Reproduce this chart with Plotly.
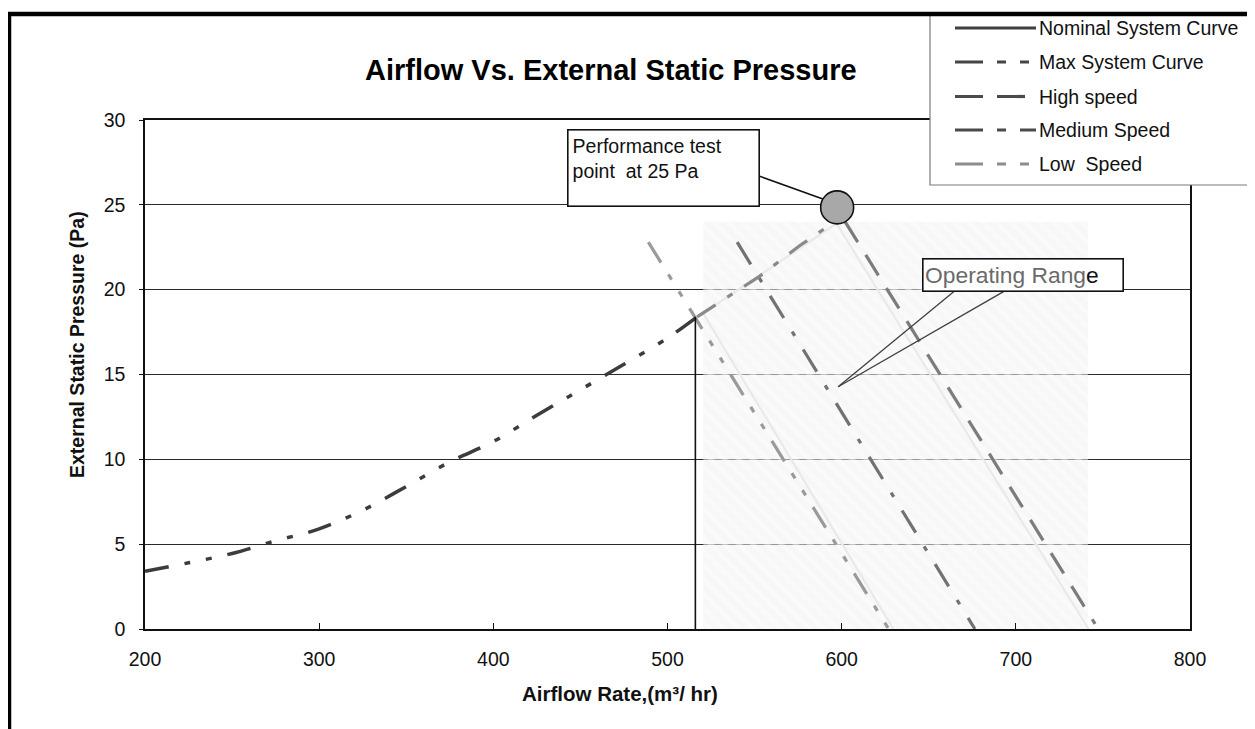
import plotly.graph_objects as go

# ---------------- data ----------------
system_x = [200, 225, 250, 275, 300, 325, 350, 375, 400, 425, 450, 475, 500, 517]
system_y = [3.4, 3.9, 4.45, 5.2, 5.9, 7.0, 8.4, 9.85, 11.05, 12.6, 14.1, 15.6, 17.15, 18.4]

system_ext_x = [517, 553, 576, 596]
system_ext_y = [18.4, 20.8, 22.6, 24.0]

nominal_x = [516, 516]
nominal_y = [0, 18.4]

high_x = [602, 745.5]
high_y = [24.0, 0.3]

medium_x = [540, 676.5]
medium_y = [22.8, 0]

low_x = [489, 627]
low_y = [22.8, 0]

test_point_x = [597.4]
test_point_y = [24.85]

range_box_x = [520.5, 741.5, 741.5, 520.5, 520.5]
range_box_y = [0, 0, 24, 24, 0]

range_outline_x = [629.7, 520.5, 597, 741.8]
range_outline_y = [0, 18.6, 23.9, 0]

x_ticks = [200, 300, 400, 500, 600, 700, 800]
y_ticks = [0, 5, 10, 15, 20, 25, 30]

legend_names = ["Nominal System Curve", "Max System Curve", "High speed",
                "Medium Speed", "Low\u00a0 Speed"]
legend_colors = ["#404040", "#454545", "#4a4a4a", "#4a4a4a", "#8c8c8c"]
legend_dashes = ["solid", "28px,14px,9px,14px,9px,14px", "28px,14px",
                 "28px,14px,9px,14px", "28px,14px,9px,14px,9px,14px"]

FONT = "Liberation Sans, Arial, sans-serif"

# ---------------- layout geometry (pixels) ----------------
OFF = 8                     # page body margin of the html output
W, H = 1255 - OFF, 729 - OFF
ML, MR, MT, MB = 145 - OFF, 65, 120 - OFF, 100
PW = W - ML - MR
PH = H - MT - MB


def px(xp):
    return (xp - OFF - ML) / PW


def py(yp):
    return (H - MB - (yp - OFF)) / PH


fig = go.Figure()

# hatched operating range
fig.add_trace(go.Scatter(
    x=range_box_x, y=range_box_y, mode="lines", fill="toself",
    line=dict(width=0, color="rgba(0,0,0,0)"),
    fillcolor="rgba(245,245,245,0.5)",
    fillpattern=dict(shape="\\", size=10, solidity=0.45,
                     fgcolor="rgba(255,255,255,0.85)",
                     bgcolor="rgba(240,240,240,0.55)"),
    showlegend=False, hoverinfo="skip"))

# light outline of operating envelope
fig.add_trace(go.Scatter(
    x=range_outline_x, y=range_outline_y, mode="lines",
    line=dict(color="#e9e9e9", width=2.2), showlegend=False, hoverinfo="skip"))

# speed lines
fig.add_trace(go.Scatter(x=low_x, y=low_y, mode="lines", name="Low Speed",
                         line=dict(color="#9a9a9a", width=3.2,
                                   dash="24px,14px,6px,14px,6px,14px"),
                         showlegend=False))
fig.add_trace(go.Scatter(x=medium_x, y=medium_y, mode="lines", name="Medium Speed",
                         line=dict(color="#727272", width=3.2,
                                   dash="26px,16px,5px,16px"),
                         showlegend=False))
fig.add_trace(go.Scatter(x=high_x, y=high_y, mode="lines", name="High speed",
                         line=dict(color="#7c7c7c", width=3.2, dash="24px,15px"),
                         showlegend=False))

# system curves
fig.add_trace(go.Scatter(x=system_ext_x, y=system_ext_y, mode="lines",
                         line=dict(color="#8a8a8a", width=3.2,
                                   dash="22px,14px,6px,14px"),
                         showlegend=False))
fig.add_trace(go.Scatter(x=system_x, y=system_y, mode="lines", name="Max System Curve",
                         line=dict(color="#3c3c3c", width=3.5, shape="spline",
                                   dash="24px,16px,6px,16px,6px,16px"),
                         showlegend=False))
fig.add_trace(go.Scatter(x=nominal_x, y=nominal_y, mode="lines",
                         name="Nominal System Curve",
                         line=dict(color="#111111", width=1.6),
                         showlegend=False))

# performance test point
fig.add_trace(go.Scatter(x=test_point_x, y=test_point_y, mode="markers",
                         marker=dict(size=33, color="#a8a8a8",
                                     line=dict(color="#111111", width=1.6)),
                         showlegend=False))

shapes = []
annotations = []

# connector lines for call-outs (data coordinates)
shapes.append(dict(type="line", xref="x", yref="y", x0=552.5, y0=26.7,
                   x1=589.2, y1=25.34, line=dict(color="#111111", width=1.5)))
shapes.append(dict(type="line", xref="x", yref="y", x0=665.0, y0=19.93,
                   x1=598.0, y1=14.28, line=dict(color="#404040", width=1.3)))
shapes.append(dict(type="line", xref="x", yref="y", x0=693.7, y0=19.93,
                   x1=598.0, y1=14.28, line=dict(color="#404040", width=1.3)))

# legend box
shapes.append(dict(type="rect", xref="paper", yref="paper",
                   x0=px(930), x1=px(1265), y0=py(185), y1=py(14),
                   line=dict(color="#7a7a7a", width=1.2), fillcolor="white",
                   layer="above"))
legend_rows = [28, 62, 96.5, 130, 164]
for name, col, dsh, yy in zip(legend_names, legend_colors, legend_dashes, legend_rows):
    shapes.append(dict(type="line", xref="paper", yref="paper",
                       x0=px(955), x1=px(1036), y0=py(yy), y1=py(yy),
                       line=dict(color=col, width=3.2, dash=dsh), layer="above"))
    annotations.append(dict(xref="paper", yref="paper", x=px(1037), y=py(yy),
                            xanchor="left", yanchor="middle", showarrow=False,
                            text=name, font=dict(family=FONT, size=19.5, color="#111111")))

# outer chart frame
shapes.append(dict(type="rect", xref="paper", yref="paper",
                   x0=px(9), x1=px(1275), y0=py(760), y1=py(14),
                   line=dict(color="black", width=4.5), fillcolor="rgba(0,0,0,0)",
                   layer="above"))

# title
annotations.append(dict(xref="paper", yref="paper", x=px(611), y=py(70),
                        xanchor="center", yanchor="middle", showarrow=False,
                        text="<b>Airflow Vs. External Static Pressure</b>",
                        font=dict(family=FONT, size=29, color="black")))
# axis titles
annotations.append(dict(xref="paper", yref="paper", x=px(77), y=py(345),
                        xanchor="center", yanchor="middle", showarrow=False,
                        textangle=-90,
                        text="<b>External Static Pressure (Pa)</b>",
                        font=dict(family=FONT, size=19.5, color="#111111")))
annotations.append(dict(xref="paper", yref="paper", x=px(620), y=py(693),
                        xanchor="center", yanchor="middle", showarrow=False,
                        text="<b>Airflow Rate,(m\u00b3/ hr)</b>",
                        font=dict(family=FONT, size=20.5, color="#111111")))

# call-out boxes
annotations.append(dict(xref="paper", yref="paper", x=px(567), y=py(129),
                        xanchor="left", yanchor="top", showarrow=False,
                        text="Performance test<br>point\u00a0 at 25 Pa",
                        align="left", valign="top", width=182, height=67,
                        borderpad=4, borderwidth=1.6, bordercolor="#111111",
                        bgcolor="white",
                        font=dict(family=FONT, size=19.5, color="#111111")))
annotations.append(dict(xref="paper", yref="paper", x=px(922), y=py(258),
                        xanchor="left", yanchor="top", showarrow=False,
                        text="Operating Rang<span style='color:#111111'>e</span>",
                        align="left", valign="middle", width=196, height=28,
                        borderpad=1.5, borderwidth=1.6, bordercolor="#111111",
                        bgcolor="white",
                        font=dict(family=FONT, size=22.8, color="#6a6a6a")))

fig.update_layout(
    width=W, height=H, autosize=False,
    margin=dict(l=ML, r=MR, t=MT, b=MB),
    paper_bgcolor="white", plot_bgcolor="white",
    showlegend=False,
    font=dict(family=FONT, size=19.5, color="#111111"),
    shapes=shapes, annotations=annotations,
    xaxis=dict(range=[200, 800], tickvals=x_ticks, ticktext=[str(v) for v in x_ticks],
               showgrid=False, zeroline=False, showline=True, linecolor="#111111",
               linewidth=2, mirror=True, ticks="inside", ticklen=6, tickwidth=1.3,
               tickcolor="#111111", ticklabelstandoff=12,
               tickfont=dict(family=FONT, size=19.5, color="#111111")),
    yaxis=dict(range=[0, 30], tickvals=y_ticks, ticktext=[str(v) for v in y_ticks],
               showgrid=True, gridcolor="#2a2a2a", gridwidth=1, zeroline=False,
               showline=True, linecolor="#111111", linewidth=1.5, mirror=True,
               ticks="outside", ticklen=4, tickcolor="#111111", ticklabelstandoff=10,
               tickfont=dict(family=FONT, size=19.5, color="#111111")),
)

fig.write_html("out.html")
